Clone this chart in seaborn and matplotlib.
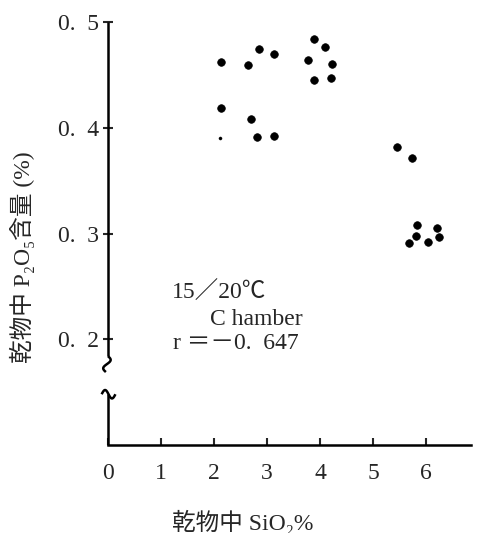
import numpy as np
import pandas as pd
import matplotlib
matplotlib.use("Agg")
import matplotlib.pyplot as plt
import seaborn as sns

# ---- data ----
sio2 = [2.14, 2.65, 2.85, 3.14, 3.89, 4.09, 3.77, 4.22, 3.89, 4.20,
        2.13, 2.70, 2.82, 3.13,
        5.45, 5.73, 5.84, 6.21, 5.82, 6.24, 5.68, 6.03]
p2o5 = [0.462, 0.459, 0.474, 0.470, 0.484, 0.476, 0.464, 0.460, 0.445, 0.447,
        0.419, 0.408, 0.391, 0.392,
        0.382, 0.371, 0.308, 0.305, 0.298, 0.297, 0.291, 0.292]
faint_sio2 = [2.11]
faint_p2o5 = [0.390]

x_ticks = [0, 1, 2, 3, 4, 5, 6]
x_ticklabels = ["0", "1", "2", "3", "4", "5", "6"]
y_ticks = [0.2, 0.3, 0.4, 0.5]
y_ticklabels = ["0.  2", "0.  3", "0.  4", "0.  5"]

annot_lines = ["15／20℃", "C hamber", "r ＝－0.  647"]
xlabel = "乾物中 SiO₂%"
ylabel = "乾物中 P₂O₅含量 (%)"

df = pd.DataFrame({"SiO2": sio2, "P2O5": p2o5})
dff = pd.DataFrame({"SiO2": faint_sio2, "P2O5": faint_p2o5})

sns.set_style("white")
plt.rcParams["font.family"] = ["Liberation Serif", "Noto Sans CJK JP", "DejaVu Serif"]

fig = plt.figure(figsize=(4.81, 5.33), dpi=100)
ax = fig.add_axes([108 / 481, 88 / 533, 363 / 481, 423 / 533])

sns.scatterplot(data=df, x="SiO2", y="P2O5", ax=ax, color="black", s=30,
                edgecolor="black", linewidth=0.5, legend=False)
sns.scatterplot(data=dff, x="SiO2", y="P2O5", ax=ax, color="black", s=5,
                marker="o", edgecolor="black", linewidth=0.3, legend=False)

ax.set_xlim(0, 6.85)
ax.set_ylim(0.1, 0.5)

for s in ["top", "right", "left"]:
    ax.spines[s].set_visible(False)
ax.spines["bottom"].set_linewidth(1.8)
ax.spines["bottom"].set_color("black")

# left axis with break marks
lk = dict(color="black", lw=1.8, clip_on=False, solid_capstyle="butt")
ax.plot([0, 0], [0.5, 0.184], **lk)
t = np.linspace(0, 1, 30)
ax.plot(0.06 * np.sin(2 * np.pi * t) - 0.04 * t, 0.184 - 0.015 * t, **lk)
tt = np.linspace(0, 1, 30)
ax.plot(-0.12 + 0.26 * tt, 0.148 + 0.004 * np.sin(2 * np.pi * tt), **lk)
ax.plot([0, 0], [0.148, 0.1], **lk)

ax.set_xticks(x_ticks)
ax.set_xticklabels(x_ticklabels)
ax.set_yticks(y_ticks)
ax.set_yticklabels(y_ticklabels)
ax.tick_params(axis="x", direction="in", length=5, width=1.5, pad=13,
               labelsize=17, bottom=True)
ax.tick_params(axis="y", direction="inout", length=7, width=1.5, pad=3,
               labelsize=17, left=True)
ax.set_xlabel("")
ax.set_ylabel("")

fig.text(243 / 481, 1 - 522 / 533, xlabel, ha="center", va="center", fontsize=17)
fig.text(22 / 481, 1 - 257 / 533, ylabel, ha="center", va="center",
         rotation=90, fontsize=17)

ax.text(1.21, 0.2436, annot_lines[0], ha="left", va="center", fontsize=17)
ax.text(1.92, 0.2185, annot_lines[1], ha="left", va="center", fontsize=17)
ax.text(1.23, 0.1963, annot_lines[2], ha="left", va="center", fontsize=17)

fig.savefig("out.png", dpi=100, facecolor="white")
